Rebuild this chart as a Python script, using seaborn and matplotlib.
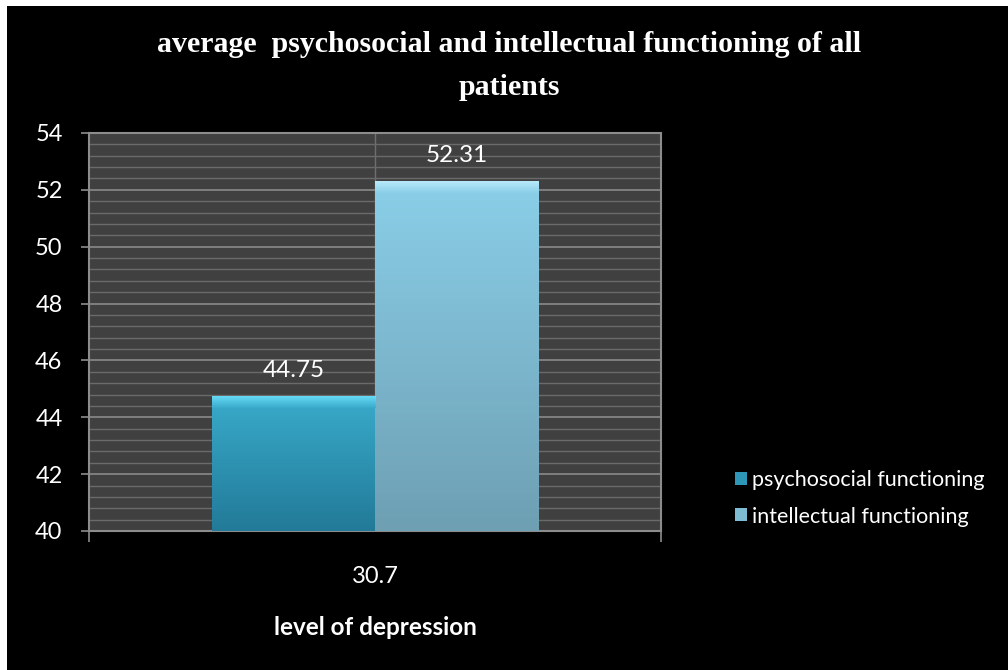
import numpy as np
import pandas as pd
import seaborn as sns
import matplotlib.pyplot as plt
from matplotlib.patches import Patch, Rectangle
from matplotlib.colors import LinearSegmentedColormap
from matplotlib.ticker import MultipleLocator

categories = ['30.7']
series = ['psychosocial functioning', 'intellectual functioning']
values = [44.75, 52.31]
colors = ['#2E96B6', '#7DBCD2']
tops = ['#3AABCB', '#8ACFE8']
bottoms = ['#227A98', '#6E9FB3']
bevels = ['#6FE4FF', '#C2F0FF']

df = pd.DataFrame({'level': categories * len(series), 'group': series, 'value': values})

sns.set_style('dark')
plt.rcParams['font.family'] = ['Lato', 'DejaVu Sans']

fig = plt.figure(figsize=(10.08, 6.70), dpi=100, facecolor='white')
fig.patches.append(Rectangle((7 / 1008, 0), 1, 1 - 6 / 670, transform=fig.transFigure,
                             facecolor='black', edgecolor='none', zorder=-10))
ax = fig.add_axes([89 / 1008, 139 / 670, (661 - 89) / 1008, (531 - 133) / 670])

sns.barplot(data=df, x='level', y='value', hue='group', palette=colors,
            width=0.57, ax=ax, legend=False, saturation=1, edgecolor='none', zorder=3)

ax.set_facecolor('#404040')
ax.yaxis.set_major_locator(MultipleLocator(2))
ax.yaxis.set_minor_locator(MultipleLocator(0.4))
ax.grid(which='major', axis='y', color='#8a8a8a', lw=1.2, zorder=0)
ax.grid(which='minor', axis='y', color='#6a6a6a', lw=1.0, zorder=0)
ax.grid(which='major', axis='x', color='#6f6f6f', lw=1.0, zorder=0)
ax.set_axisbelow(True)

# gradient fill + top bevel on each bar
for i, (p, top, bot, bev) in enumerate(zip(ax.patches, tops, bottoms, bevels)):
    x0, y0 = p.get_x(), p.get_y()
    w, h = p.get_width(), p.get_height()
    y1 = y0 + h
    cmap = LinearSegmentedColormap.from_list('g', [bot, top])
    grad = np.linspace(1, 0, 256).reshape(-1, 1)
    im = ax.imshow(grad, cmap=cmap, extent=[x0, x0 + w, 40, y1], aspect='auto', zorder=3.5,
                   interpolation='bicubic')
    im.set_clip_path(p)
    bcmap = LinearSegmentedColormap.from_list('b', [top, bev])
    band = ax.imshow(np.linspace(1, 0, 64).reshape(-1, 1), cmap=bcmap,
                     extent=[x0, x0 + w, y1 - 0.42, y1], aspect='auto',
                     zorder=3.6, interpolation='bicubic', alpha=0.85)
    band.set_clip_path(p)
    ax.text(x0 + w / 2, y1 + 0.9, f'{values[i]:g}',
            color='white', ha='center', va='center', fontsize=17.5)
ax.set_xlim(-0.5, 0.5)
ax.set_ylim(40, 54)

for s in ax.spines.values():
    s.set_color('#8c8c8c')
    s.set_linewidth(1.5)
ax.tick_params(axis='y', which='major', colors='#8c8c8c', length=6, width=1.2, labelcolor='white',
               labelsize=17, left=True, pad=13)
ax.tick_params(axis='y', which='minor', left=False)
ax.set_xticks([-0.5, 0.5], minor=True)
ax.tick_params(axis='x', which='minor', colors='#8c8c8c', length=8, width=1.2, bottom=True)
ax.tick_params(axis='x', which='major', length=0, labelcolor='white', labelsize=17, pad=25)
ax.set_xlabel('level of depression', color='white', fontsize=17.5, fontweight='bold', labelpad=21)
ax.set_ylabel('')

fig.suptitle('average  psychosocial and intellectual functioning of all\npatients',
             x=0.505, y=0.953, color='white', fontsize=21.5, fontweight='bold',
             family='Liberation Serif', linespacing=1.75)

handles = [Patch(facecolor=c, edgecolor='none') for c in colors]
fig.legend(handles, series, loc='center left', bbox_to_anchor=(0.729, 0.256),
           frameon=False, labelcolor='white', fontsize=15.5, handlelength=0.55,
           handleheight=0.55, handletextpad=0.25, labelspacing=0.75,
           borderpad=0, borderaxespad=0)

fig.savefig('out.png', dpi=100, facecolor=fig.get_facecolor())
